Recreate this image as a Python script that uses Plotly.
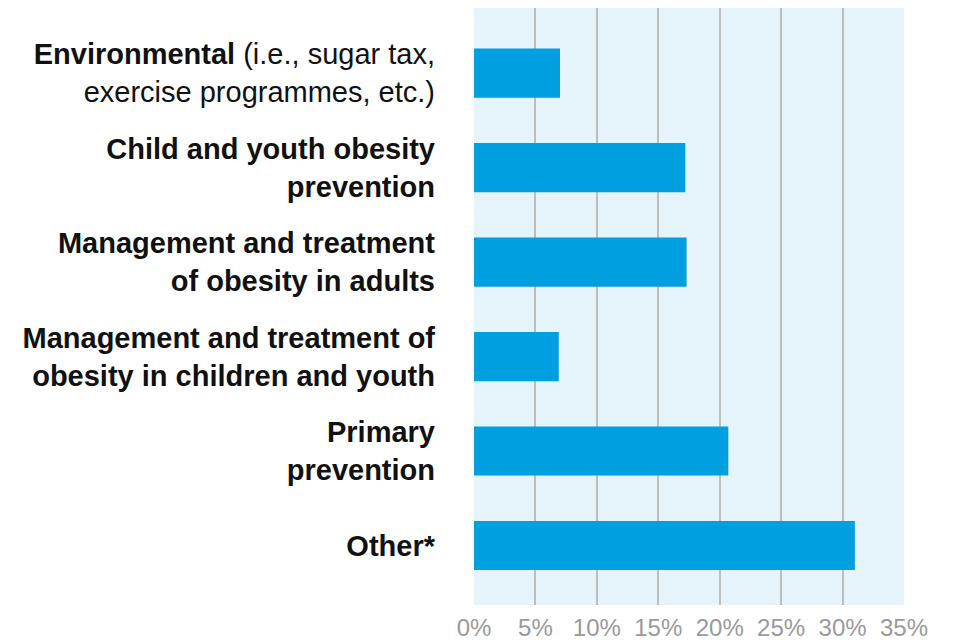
import plotly.graph_objects as go

categories = [
    "<b>Environmental</b> (i.e., sugar tax,<br>exercise programmes, etc.)",
    "<b>Child and youth obesity<br>prevention</b>",
    "<b>Management and treatment<br>of obesity in adults</b>",
    "<b>Management and treatment of<br>obesity in children and youth</b>",
    "<b>Primary<br>prevention</b>",
    "<b>Other*</b>",
]
values = [7.0, 17.2, 17.3, 6.9, 20.7, 31.0]
tick_vals = [0, 5, 10, 15, 20, 25, 30, 35]
tick_text = ["0%", "5%", "10%", "15%", "20%", "25%", "30%", "35%"]

fig = go.Figure(
    go.Bar(
        x=values,
        y=categories,
        orientation="h",
        marker=dict(color="#009fe0", line=dict(width=0)),
        width=0.52,
    )
)

fig.update_layout(
    width=957,
    height=641,
    margin=dict(l=466, r=61, t=0, b=44),
    paper_bgcolor="white",
    plot_bgcolor="#e5f3fb",
    font=dict(family="Liberation Sans, Arial, Helvetica, sans-serif"),
    showlegend=False,
)

fig.update_xaxes(
    range=[0, 35],
    tickvals=tick_vals,
    ticktext=tick_text,
    showgrid=True,
    gridcolor="#bdbdbd",
    gridwidth=1.5,
    zeroline=False,
    showline=False,
    tickfont=dict(size=24, color="#9a9a9a"),
    ticks="",
    ticklabelstandoff=6,
    fixedrange=True,
)

fig.update_yaxes(
    type="category",
    categoryorder="array",
    categoryarray=categories,
    range=[5.63, -0.69],
    showgrid=False,
    zeroline=False,
    showline=False,
    tickfont=dict(size=29, color="#111111"),
    ticks="",
    ticklabelstandoff=38,
    fixedrange=True,
)

fig.write_html("out.html")
